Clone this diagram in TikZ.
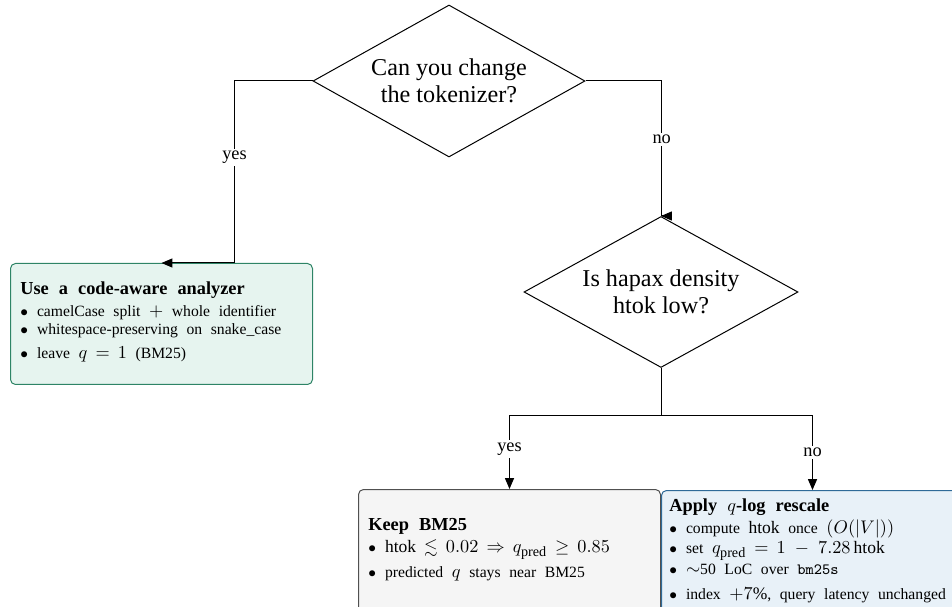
\documentclass[tikz,border=0pt]{standalone}
\usepackage{amsmath,amssymb}
\usepackage{fontspec}
\setmainfont{Liberation Serif}
\newfontfamily\boxfont{Liberation Serif}[WordSpace=2.2]
\DeclareMathSizes{9.4}{10.5}{8.5}{6}
\usetikzlibrary{shapes.geometric,arrows.meta,positioning}

\definecolor{codefill}{HTML}{E6F4EF}
\definecolor{codeline}{HTML}{2E8466}
\definecolor{keepfill}{HTML}{F5F5F5}
\definecolor{keepline}{HTML}{505050}
\definecolor{scalefill}{HTML}{E8F1F8}
\definecolor{scaleline}{HTML}{2F6A98}

\newcommand{\itembul}{\makebox[10pt][l]{\fontsize{9}{10}\selectfont$\bullet$}}
\newcommand{\boxspacing}{\medmuskip=9mu\relax\thickmuskip=8mu\relax}

\begin{document}
\begin{tikzpicture}[x=0.6pt, y=-0.6pt, >={Triangle[length=6.5pt,width=5.4pt]},
  decision/.style={draw, diamond, aspect=1.79, inner sep=0pt, line width=0.6pt,
    align=center, font=\fontsize{14.5}{16.5}\selectfont},
  outbox/.style={draw, rounded corners=3pt, line width=0.6pt, anchor=north west,
    minimum width=181.2pt},
  boxtext/.style={anchor=north west, inner sep=0pt, align=left,
    font=\boxfont\fontsize{9.4}{10.8}\selectfont},
  lbl/.style={fill=white, inner sep=1.5pt, font=\fontsize{11}{13}\selectfont},
  link/.style={line width=0.6pt}]
\useasboundingbox (0,0) rectangle (952,607);
\clip (0,0) rectangle (952,607);

%--- decisions ---
\node[decision, minimum width=163.2pt, minimum height=91.2pt] (q1) at (449,81)
  {Can you change\\the tokenizer?};
\node[decision, minimum width=164.4pt, minimum height=90.6pt] (q2) at (661,292)
  {Is hapax density\\htok low?};

%--- outcomes ---
\node[outbox, fill=codefill, draw=codeline, minimum height=72.6pt]
  (analyzer) at (10,263) {};
\node[boxtext] (analyzertext) at ([xshift=6pt,yshift=-11.2pt]analyzer.north west)
  {\boxspacing{\fontsize{11}{13}\selectfont\bfseries Use a code-aware analyzer}\\[2.4pt]
   \boxspacing\itembul camelCase split $+$ whole identifier\\
   \itembul whitespace-preserving on snake\_case\\[3.6pt]
   \boxspacing\itembul leave $q=1$ (BM25)};

\node[outbox, fill=keepfill, draw=keepline, minimum height=120pt]
  (keep) at (358,489) {};
\node[boxtext] (keeptext) at ([xshift=6pt,yshift=-17.4pt]keep.north west)
  {{\fontsize{11}{13}\selectfont\bfseries Keep BM25}\\[2.4pt]
   \boxspacing\itembul $\mathrm{htok}\lesssim 0.02\Rightarrow q_{\mathrm{pred}}\geq 0.85$\\[4.2pt]
   \itembul predicted $q$ stays near BM25};

\node[outbox, fill=scalefill, draw=scaleline, minimum height=120pt]
  (rescale) at (661,490) {};
\node[boxtext] (rescaletext) at ([xshift=4.8pt,yshift=-5.2pt]rescale.north west)
  {{\fontsize{11}{13}\selectfont\bfseries Apply $q$-log rescale}\\[2.4pt]
   \boxspacing\itembul compute $\mathrm{htok}$ once $(O(|V|))$\\[1.2pt]
   \boxspacing\itembul set $q_{\mathrm{pred}}=1-7.28\,\mathrm{htok}$\\[1.8pt]
   \itembul $\sim$50 LoC over \texttt{bm25s}\\[4pt]
   \boxspacing\itembul index $+7\%$, query latency unchanged};

%--- connectors ---
\draw[link, ->] (q1.west) -- ++(-78,0) |- node[lbl, pos=0.21] {yes} (analyzer.north);
\draw[link, ->] (q1.east) -| node[lbl, pos=0.717] {no} ([xshift=0.4pt]q2.north) -- (q2.north);

\draw[link] (q2.south) -- ++(0,47) coordinate (fork);
\draw[link, ->] (fork) -| node[lbl, pos=0.73] {yes} (keep.north);
\draw[link, ->] (fork) -| node[lbl, pos=0.75] {no} (rescale.north);
\end{tikzpicture}
\end{document}
